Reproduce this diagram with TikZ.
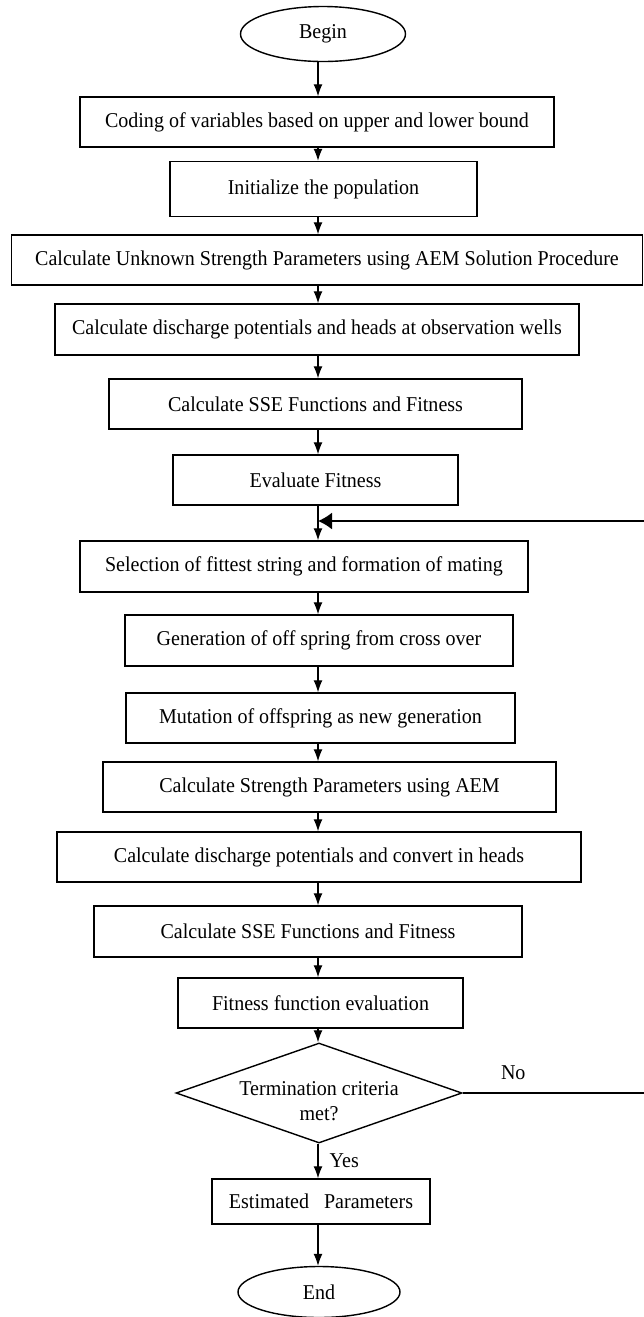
\documentclass[tikz,border=0pt]{standalone}
\usepackage{fontspec}
\setmainfont{Liberation Serif}[FakeStretch=0.95]
\usepackage{tikz}
\usetikzlibrary{arrows.meta,shapes.geometric,positioning}

\begin{document}
\begin{tikzpicture}[
  >=Latex,
  every node/.style={font=\fontsize{12pt}{14pt}\selectfont,align=center},
  proc/.style={draw,rectangle,line width=0.8pt,minimum height=1.0cm,inner sep=2pt},
  term/.style={draw,ellipse,line width=0.8pt,inner sep=0pt},
  decide/.style={draw,diamond,aspect=2.86,line width=0.8pt,inner sep=0pt},
  flow/.style={-{Latex[length=2.4mm,width=1.8mm]},line width=0.7pt},
  loopback/.style={-{Latex[length=2.8mm,width=3.4mm]},line width=0.9pt}
]
  \useasboundingbox (0,0) rectangle (12.88,-26.34);
  \coordinate (axis) at (6.36,0);

  \node[term,minimum width=3.3cm,minimum height=1.1cm] (begin) at (6.46,-0.68) {Begin};
  \node[proc,minimum width=9.48cm] (code) at (6.34,-2.44)
    {Coding of variables based on upper and lower bound};
  \node[proc,minimum width=6.14cm,minimum height=1.1cm] (init) at (6.47,-3.78)
    {Initialize the population};
  \node[proc,minimum width=12.62cm] (unknown) at (6.54,-5.20)
    {Calculate Unknown Strength Parameters using AEM Solution Procedure};
  \node[proc,minimum width=10.48cm,minimum height=1.02cm] (wells) at (6.34,-6.59)
    {Calculate discharge potentials and heads at observation wells};
  \node[proc,minimum width=8.26cm] (sse) at (6.31,-8.08)
    {Calculate SSE Functions and Fitness};
  \node[proc,minimum width=5.70cm] (evalfit) at (6.31,-9.60) {Evaluate Fitness};
  \node[proc,minimum width=8.96cm,minimum height=1.02cm] (select) at (6.08,-11.33)
    {Selection of fittest string and formation of mating};
  \node[proc,minimum width=7.76cm,minimum height=1.02cm] (cross) at (6.38,-12.81)
    {Generation of off spring from cross over};
  \node[proc,minimum width=7.78cm] (mutate) at (6.41,-14.36)
    {Mutation of offspring as new generation};
  \node[proc,minimum width=9.06cm] (strength) at (6.59,-15.74)
    {Calculate Strength Parameters using AEM};
  \node[proc,minimum width=10.48cm] (heads) at (6.38,-17.14)
    {Calculate discharge potentials and convert in heads};
  \node[proc,minimum width=8.56cm,minimum height=1.02cm] (ssetwo) at (6.16,-18.63)
    {Calculate SSE Functions and Fitness};
  \node[proc,minimum width=5.70cm] (fitfunc) at (6.41,-20.06)
    {Fitness function evaluation};
  \node[decide,minimum width=5.72cm,minimum height=2.0cm,
    label={[yshift=-4.5pt,align=center]center:Termination criteria\\met?}]
    (stop) at (6.38,-21.86) {};
  \node[proc,minimum width=4.36cm,minimum height=0.9cm] (est) at (6.42,-24.03)
    {Estimated~~~Parameters};
  \node[term,minimum width=3.24cm,minimum height=1.02cm] (finish) at (6.38,-25.84) {End};

  \coordinate (join) at (6.36,-10.42);
  \coordinate (back) at (13.0,-10.42);

  \draw[flow] (begin.south -| axis) -- (code.north -| axis);
  \draw[flow] (code.south -| axis) -- (init.north -| axis);
  \draw[flow] (init.south -| axis) -- (unknown.north -| axis);
  \draw[flow] (unknown.south -| axis) -- (wells.north -| axis);
  \draw[flow] (wells.south -| axis) -- (sse.north -| axis);
  \draw[flow] (sse.south -| axis) -- (evalfit.north -| axis);
  \draw[flow] (evalfit.south -| axis) -- (select.north -| axis);
  \draw[flow] (select.south -| axis) -- (cross.north -| axis);
  \draw[flow] (cross.south -| axis) -- (mutate.north -| axis);
  \draw[flow] (mutate.south -| axis) -- (strength.north -| axis);
  \draw[flow] (strength.south -| axis) -- (heads.north -| axis);
  \draw[flow] (heads.south -| axis) -- (ssetwo.north -| axis);
  \draw[flow] (ssetwo.south -| axis) -- (fitfunc.north -| axis);
  \draw[flow] (fitfunc.south -| axis) -- (stop.north -| axis);
  \draw[flow] (stop.south -| axis) -- node[right=3pt] {Yes} (est.north -| axis);
  \draw[flow] (est.south -| axis) -- (finish.north -| axis);
  \draw[loopback] (stop.east) -- node[above=4pt,pos=0.27] {No} (stop.east -| back)
    -- (back) -- (join);
\end{tikzpicture}
\end{document}
